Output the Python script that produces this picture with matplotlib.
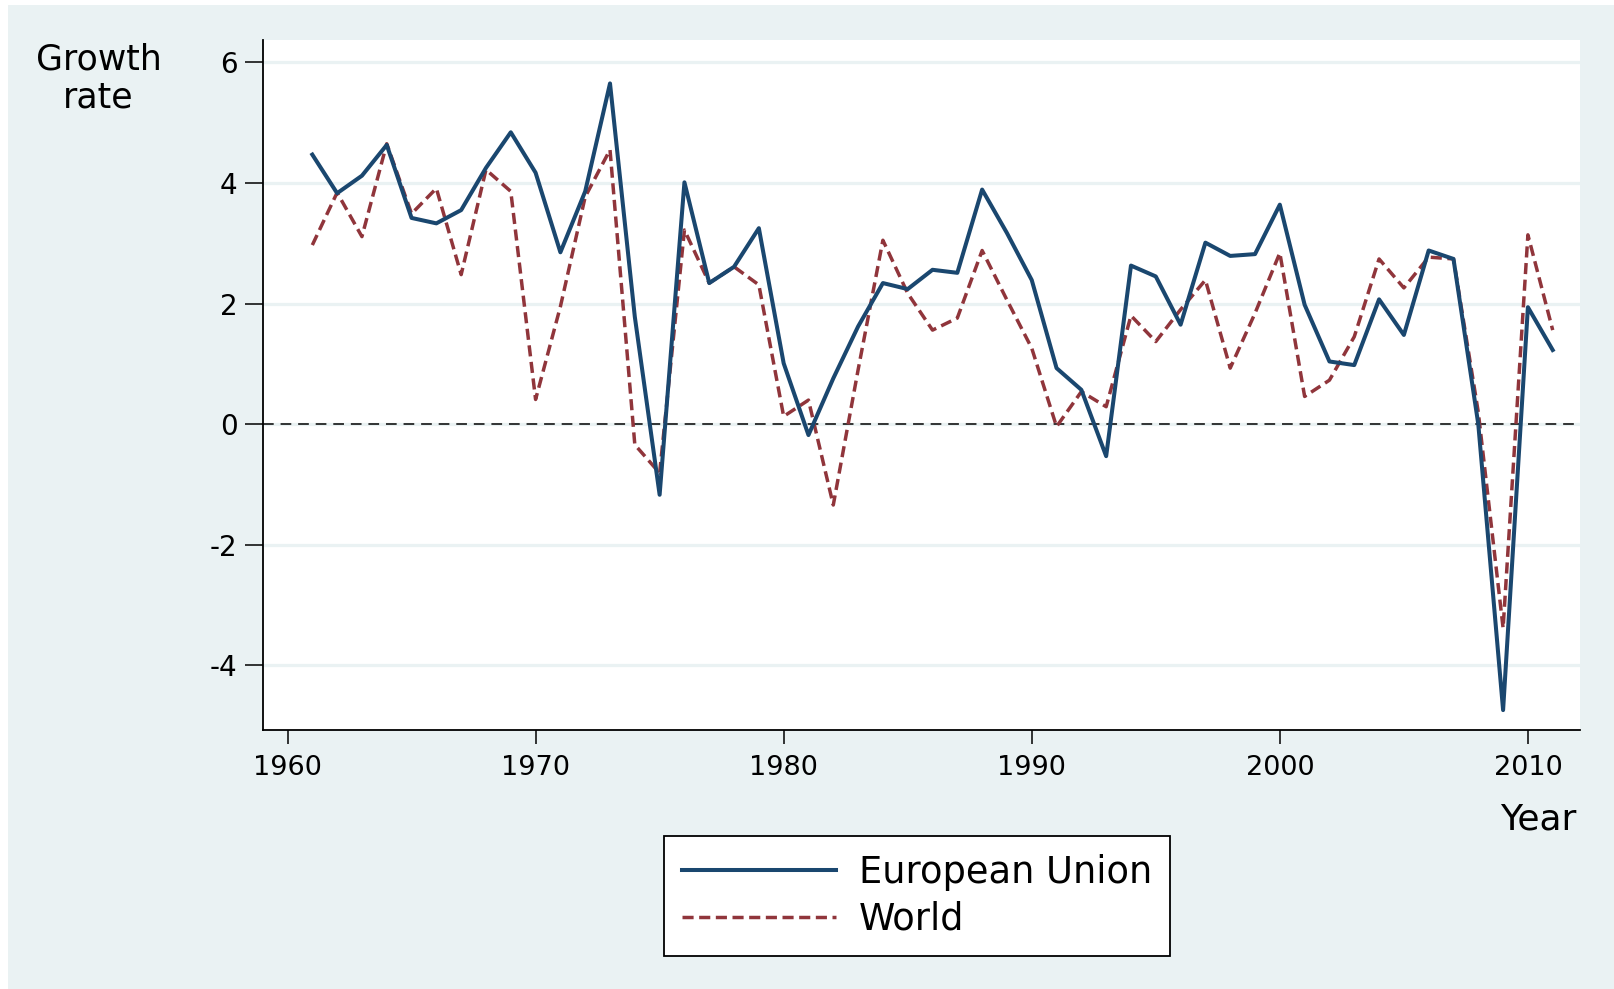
import numpy as np
import matplotlib
matplotlib.use("Agg")
import matplotlib.pyplot as plt
from matplotlib.patches import Rectangle

plt.rcParams["axes.unicode_minus"] = False

years = list(range(1961, 2012))
eu = [4.47, 3.83, 4.12, 4.63, 3.42, 3.33, 3.55, 4.25, 4.84, 4.17,
      2.85, 3.86, 5.65, 1.78, -1.17, 4.01, 2.34, 2.61, 3.25, 1.01,
      -0.18, 0.76, 1.62, 2.34, 2.24, 2.56, 2.51, 3.89, 3.17, 2.39,
      0.93, 0.57, -0.53, 2.63, 2.45, 1.65, 3.01, 2.79, 2.82, 3.64,
      1.98, 1.04, 0.98, 2.07, 1.48, 2.88, 2.74, 0.0, -4.74, 1.94, 1.23]
world = [2.97, 3.84, 3.11, 4.65, 3.49, 3.91, 2.48, 4.22, 3.86, 0.41,
         1.95, 3.77, 4.55, -0.34, -0.81, 3.22, 2.34, 2.61, 2.31, 0.13,
         0.40, -1.34, 0.9, 3.05, 2.17, 1.56, 1.76, 2.88, 2.06, 1.26,
         -0.04, 0.54, 0.29, 1.80, 1.37, 1.9, 2.39, 0.93, 1.84, 2.84,
         0.46, 0.73, 1.45, 2.74, 2.26, 2.77, 2.74, 0.2, -3.38, 3.14, 1.56]
yticks = [-4, -2, 0, 2, 4, 6]
xticks = [1960, 1970, 1980, 1990, 2000, 2010]

BG = "#EAF2F3"
NAVY = "#1A476F"
MAROON = "#90353B"
W, H = 1614, 989

fig = plt.figure(figsize=(W / 100, H / 100), dpi=100, facecolor="white")
fig.patches.append(Rectangle((8 / W, 0), 1 - 8 / W, 1 - 5 / H, transform=fig.transFigure,
                             facecolor=BG, edgecolor="none", zorder=-10))
ax = fig.add_axes([262.7 / W, 1 - 730 / H, (1580 - 262.7) / W, (730 - 40) / H])
ax.set_facecolor("white")

for t in yticks:
    ax.axhline(t, color=BG, lw=2.3, zorder=1)
ax.axhline(0, color="black", lw=1.1, ls=(0, (7, 4.5)), zorder=2)

ax.plot(years, eu, color=NAVY, lw=2.9, label="European Union", zorder=4)
ax.plot(years, world, color=MAROON, lw=2.5, ls=(0, (3.2, 1.6)), label="World", zorder=3)

ax.set_xlim(1959.0, 2012.1)
ax.set_ylim(-5.07, 6.37)
ax.set_yticks(yticks)
ax.set_xticks(xticks)
ax.tick_params(axis="y", length=13, width=1.1, labelsize=20, pad=5)
ax.tick_params(axis="x", length=10, width=1.1, labelsize=19.5, pad=8)
for s in ["top", "right"]:
    ax.spines[s].set_visible(False)
for s in ["left", "bottom"]:
    ax.spines[s].set_linewidth(1.3)

fig.text(99 / W, 1 - 59 / H, "Growth", ha="center", va="center", fontsize=25)
fig.text(98 / W, 1 - 98 / H, "rate", ha="center", va="center", fontsize=25)
fig.text(1576 / W, 1 - 820 / H, "Year", ha="right", va="center", fontsize=26)

leg = ax.legend(loc="upper left", bbox_to_anchor=(664 / W, 1 - 836 / H), bbox_transform=fig.transFigure,
                borderaxespad=0, fontsize=26.5, handlelength=4.2, handletextpad=0.62,
                labelspacing=0.28, borderpad=0.48, fancybox=False, framealpha=1)
leg.get_frame().set_edgecolor("black")
leg.get_frame().set_linewidth(1.3)

fig.savefig("out.png", dpi=100, facecolor=fig.get_facecolor())
